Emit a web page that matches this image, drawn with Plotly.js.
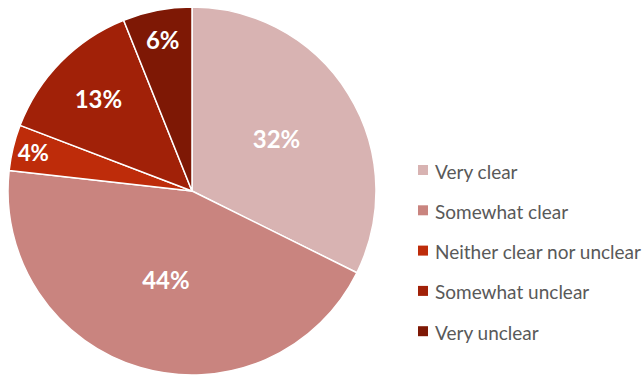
<!DOCTYPE html>
<html><head><meta charset="utf-8">
<script src="https://cdn.plot.ly/plotly-3.0.1.min.js"></script>
<style>html,body{margin:0;padding:0;background:#fff}#c{width:644px;height:375px}</style>
</head><body><div id="c"></div>
<script>
const labels = ["Very clear", "Somewhat clear", "Neither clear nor unclear", "Somewhat unclear", "Very unclear"];
const values = [32, 44, 4, 13, 6];
const colors = ["#d8b3b2", "#c9847f", "#be2c0a", "#a12108", "#7e1805"];

const W = 644, H = 375, T = 7;
const trace = {
  type: "pie",
  labels: labels,
  values: values,
  sort: false,
  direction: "clockwise",
  rotation: 0,
  marker: {colors: colors, line: {color: "#ffffff", width: 1.5}},
  texttemplate: "%{value}%",
  textposition: "inside",
  insidetextorientation: "horizontal",
  textfont: {family: "Lato, 'Open Sans', sans-serif", size: 24, color: "#ffffff", weight: "bold"},
  domain: {x: [8 / W, 376 / W], y: [0, 1]},
  showlegend: false,
  hoverinfo: "label+percent"
};

const shapes = [], annotations = [];
const legX = 418, legY0 = 170, legStep = 40.3;
const py = p => 1 - (p - T) / (H - T);
labels.forEach((lab, i) => {
  const y = legY0 + i * legStep;
  shapes.push({type: "rect", xref: "paper", yref: "paper",
    x0: legX / W, x1: (legX + 10) / W, y0: py(y + 5), y1: py(y - 5),
    fillcolor: colors[i], line: {width: 0}});
  annotations.push({xref: "paper", yref: "paper", x: (legX + 15) / W, y: py(y + 1),
    xanchor: "left", yanchor: "middle", showarrow: false, text: lab,
    font: {family: "Lato, 'Open Sans', sans-serif", size: 19, color: "#595959"}});
});

const layout = {
  width: W, height: H,
  margin: {l: 0, r: 0, t: T, b: 0},
  paper_bgcolor: "#ffffff",
  showlegend: false,
  shapes: shapes,
  annotations: annotations
};
Plotly.newPlot("c", [trace], layout, {displayModeBar: false, staticPlot: true});
</script></body></html>
